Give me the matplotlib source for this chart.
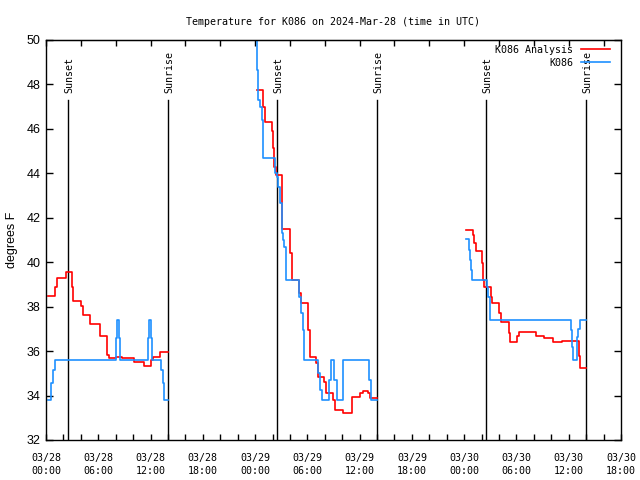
import matplotlib
matplotlib.use("Agg")
import matplotlib.pyplot as plt
from matplotlib.ticker import MultipleLocator, FuncFormatter
from datetime import datetime, timedelta

# hours since 2024-03-28 00:00 UTC
START = datetime(2024, 3, 28)

red_t1 = [0.27, 1.03, 1.22, 2.30, 2.95, 3.14, 3.98, 4.2, 5.1, 6.2, 7.0, 7.2, 8.03, 8.69, 10.1, 11.2, 12.0, 12.3, 13.1, 14.03]
red_v1 = [38.5, 38.9, 39.3, 39.55, 38.9, 38.27, 38.03, 37.62, 37.22, 36.68, 35.82, 35.67, 35.75, 35.67, 35.52, 35.33, 35.6, 35.75, 35.95, 35.95]
blue_t1 = [0.27, 0.6, 0.85, 1.0, 8.05, 8.2, 8.4, 8.55, 11.7, 11.85, 12.05, 12.2, 13.2, 13.4, 13.6, 14.03]
blue_v1 = [33.8, 34.55, 35.15, 35.6, 36.6, 37.4, 36.6, 35.6, 36.6, 37.4, 36.6, 35.6, 35.15, 34.55, 33.8, 33.8]

red_t2 = [24.18, 24.95, 25.1, 25.98, 26.05, 26.2, 26.4, 27.05, 28.0, 28.2, 29.08, 29.27, 30.1, 30.29, 30.94,
          31.26, 31.9, 32.13, 32.98, 33.17, 34.13, 35.1, 36.05, 36.36, 37.0, 37.2, 38.0]
red_v2 = [47.75, 47.0, 46.3, 45.9, 45.15, 44.3, 43.92, 41.48, 40.43, 39.2, 38.6, 38.15, 36.95, 35.75, 35.45,
          34.85, 34.62, 34.1, 33.8, 33.35, 33.2, 33.95, 34.1, 34.2, 34.1, 33.88, 33.88]
blue_t2 = [24.1, 24.18, 24.26, 24.37, 24.56, 24.76, 24.87, 24.95, 26.29, 26.48, 26.67, 26.86, 27.05, 27.24, 27.36,
           27.55, 29.08, 29.27, 29.46, 29.65, 31.26, 31.45, 31.64, 32.52, 32.67, 33.1, 33.37, 34.06, 34.13, 37.1,
           37.3, 38.0]
blue_v2 = [50.6, 49.8, 48.65, 47.3, 47.0, 46.4, 45.35, 44.67, 44.0, 43.85, 43.4, 42.65, 41.3, 41.0, 40.7,
           39.2, 38.45, 37.7, 36.95, 35.6, 35.0, 34.25, 33.8, 34.7, 35.6, 34.7, 33.8, 34.7, 35.6, 34.7,
           33.8, 33.8]

red_t3 = [48.21, 48.97, 49.13, 49.32, 50.08, 50.2, 50.31, 51.08, 51.23, 52.03, 52.19, 53.15, 53.26, 54.1, 54.29,
          56.24, 57.16, 58.23, 59.19, 61.14, 61.3, 61.97]
red_v3 = [41.45, 41.22, 40.85, 40.5, 39.95, 39.2, 38.9, 38.45, 38.15, 37.7, 37.32, 36.8, 36.42, 36.7, 36.87,
          36.68, 36.57, 36.4, 36.47, 35.8, 35.22, 35.22]
blue_t3 = [48.21, 48.59, 48.67, 48.78, 48.9, 50.66, 50.77, 50.96, 60.22, 60.33, 60.52, 60.99, 61.1, 61.3, 61.97]
blue_v3 = [41.03, 40.55, 40.1, 39.65, 39.2, 38.9, 38.45, 37.4, 36.95, 36.2, 35.6, 36.65, 37.0, 37.4, 37.4]

sunset = [2.50, 26.52, 50.53]
sunrise = [14.03, 38.0, 61.97]

MONO = "DejaVu Sans Mono"
SANS = "Liberation Sans"
RED = "#ff0000"
BLUE = "#1e90ff"

fig = plt.figure(figsize=(6.4, 4.8), dpi=100)
ax = fig.add_axes([46 / 640, 40 / 480, 575 / 640, 400 / 480])

for t in sunset + sunrise:
    ax.plot([t, t], [32, 47.3], color="black", lw=1.0)
for t in sunset:
    ax.text(t + 0.15, 47.62, "Sunset", rotation=90, ha="center", va="bottom", family=MONO, fontsize=7.2)
for t in sunrise:
    ax.text(t + 0.15, 47.62, "Sunrise", rotation=90, ha="center", va="bottom", family=MONO, fontsize=7.2)

ax.step(red_t1, red_v1, where="post", color=RED, lw=1.2, label="K086 Analysis")
ax.step(red_t2, red_v2, where="post", color=RED, lw=1.2)
ax.step(red_t3, red_v3, where="post", color=RED, lw=1.2)
ax.step(blue_t1, blue_v1, where="post", color=BLUE, lw=1.2, label="K086")
ax.step(blue_t2, blue_v2, where="post", color=BLUE, lw=1.2)
ax.step(blue_t3, blue_v3, where="post", color=BLUE, lw=1.2)

ax.set_xlim(0, 66)
ax.set_ylim(32, 50)


def fmt_time(h, pos):
    d = START + timedelta(hours=h)
    return d.strftime("%m/%d\n%H:%M")


ax.xaxis.set_major_locator(MultipleLocator(6))
ax.xaxis.set_minor_locator(MultipleLocator(2))
ax.xaxis.set_major_formatter(FuncFormatter(fmt_time))
ax.yaxis.set_major_locator(MultipleLocator(2))
ax.tick_params(axis="x", which="both", direction="in", length=4, width=1, top=False, pad=9)
ax.tick_params(axis="y", direction="in", length=5, width=1, right=True, pad=4)
for lab in ax.get_xticklabels():
    lab.set_family(MONO)
    lab.set_fontsize(7.2)
    lab.set_linespacing(1.5)
for lab in ax.get_yticklabels():
    lab.set_family(SANS)
    lab.set_fontsize(9)

top = ax.secondary_xaxis("top")
top.xaxis.set_major_locator(MultipleLocator(4))
top.tick_params(direction="in", length=4, width=1, labeltop=False)

for s in ax.spines.values():
    s.set_linewidth(1)
    s.set_color("black")

ax.set_ylabel("degrees F", family=SANS, fontsize=9, labelpad=6)
ax.set_title("Temperature for K086 on 2024-Mar-28 (time in UTC)", family=MONO, fontsize=7.2, pad=11)

leg = ax.legend(loc="upper right", bbox_to_anchor=(0.992, 1.003), frameon=False, markerfirst=False,
                prop={"family": MONO, "size": 7.2}, handlelength=2.9, handletextpad=0.8,
                labelspacing=0.3, borderaxespad=0.2)

fig.savefig("out.png", dpi=100)
